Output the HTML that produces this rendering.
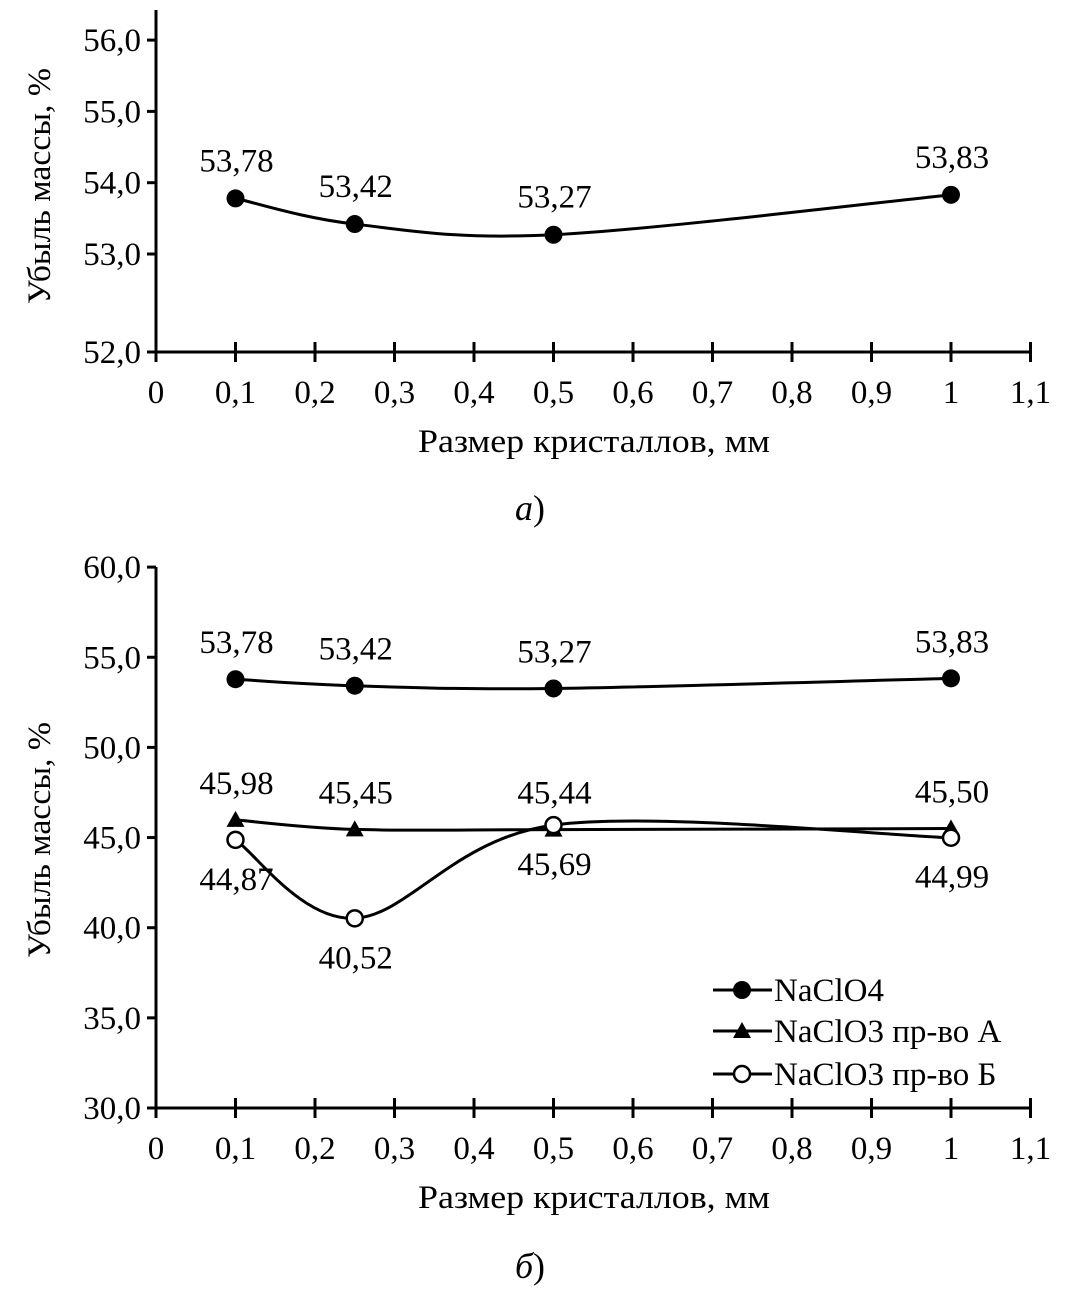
<!DOCTYPE html>
<html><head><meta charset="utf-8"><style>
body{margin:0;background:#fff}
svg{display:block;font-family:"Liberation Serif",serif}
</style></head><body>
<svg id="s" width="1067" height="1294"></svg>
<script>
const xs=[0.1,0.25,0.5,1];
const xTicks=[0,0.1,0.2,0.3,0.4,0.5,0.6,0.7,0.8,0.9,1,1.1];
const xTickLabels=["0","0,1","0,2","0,3","0,4","0,5","0,6","0,7","0,8","0,9","1","1,1"];
const aValues=[53.78,53.42,53.27,53.83];
const aLabels=["53,78","53,42","53,27","53,83"];
const aYTicks=[53,54,55,56];
const aYTickLabels=["53,0","54,0","55,0","56,0"];
const bNaClO4=[53.78,53.42,53.27,53.83];
const bNaClO3A=[45.98,45.45,45.44,45.50];
const bNaClO3B=[44.87,40.52,45.69,44.99];
const bLabelsClO4=["53,78","53,42","53,27","53,83"];
const bLabelsA=["45,98","45,45","45,44","45,50"];
const bLabelsB=["44,87","40,52","45,69","44,99"];
const bYTicks=[30,35,40,45,50,55,60];
const bYTickLabels=["30,0","35,0","40,0","45,0","50,0","55,0","60,0"];

const FS=33;
const NS="http://www.w3.org/2000/svg",S=document.getElementById('s');
function el(t,a,txt){const e=document.createElementNS(NS,t);for(const k in a)e.setAttribute(k,a[k]);if(txt!==undefined)e.textContent=txt;S.appendChild(e);return e;}
const X=v=>156+v*795;
function spline(pts){let d=`M${pts[0][0]},${pts[0][1]}`;for(let i=0;i<pts.length-1;i++){const p0=pts[i-1]||pts[i],p1=pts[i],p2=pts[i+1],p3=pts[i+2]||p2;const t=1/3;
d+=` C${p1[0]+(p2[0]-p0[0])*t/2},${p1[1]+(p2[1]-p0[1])*t/2} ${p2[0]-(p3[0]-p1[0])*t/2},${p2[1]-(p3[1]-p1[1])*t/2} ${p2[0]},${p2[1]}`;}return d;}
function xAxis(y0,name){
 let e=el('line',{x1:148,y1:y0,x2:1030,y2:y0,stroke:'#000','stroke-width':3});
 xTicks.forEach((v,i)=>{let t=el('line',{x1:X(v),y1:y0-10,x2:X(v),y2:y0+10,stroke:'#000','stroke-width':3});
 let l=el('text',{x:X(v),y:y0+51,'text-anchor':'middle','font-size':FS},xTickLabels[i]);});
 let t=el('text',{x:594,y:y0+100,'text-anchor':'middle','font-size':FS,textLength:352,lengthAdjust:'spacingAndGlyphs'},'Размер кристаллов, мм');
}
function yAxis(top,bot,Y,ticks,labels,name,yt){
 let e=el('line',{x1:156,y1:top,x2:156,y2:bot,stroke:'#000','stroke-width':3});
 ticks.forEach((v,i)=>{let t=el('line',{x1:147,y1:Y(v),x2:156,y2:Y(v),stroke:'#000','stroke-width':3});
 let l=el('text',{x:141,y:Y(v)+11,'text-anchor':'end','font-size':FS},labels[i]);});
 let t=el('text',{x:0,y:0,'text-anchor':'middle','font-size':FS,textLength:236,lengthAdjust:'spacingAndGlyphs',transform:`translate(50,${yt}) rotate(-90)`},'Убыль массы, %');
}
function series(vals,Y,marker,name){
 const pts=xs.map((x,i)=>[X(x),Y(vals[i])]);
 let p=el('path',{d:spline(pts),fill:'none',stroke:'#000','stroke-width':3});
 pts.forEach(q=>drawMarker(q[0],q[1],marker,name));
}
function drawMarker(x,y,m,name){let e;
 if(m==='dot')e=el('circle',{cx:x,cy:y,r:9,fill:'#000'});
 else if(m==='open')e=el('circle',{cx:x,cy:y,r:8,fill:'#fff',stroke:'#000','stroke-width':2.5});
 else e=el('polygon',{points:`${x},${y-9} ${x+9},${y+7} ${x-9},${y+7}`,fill:'#000'});
 }
function labels(vals,Y,txt,dy,name){xs.forEach((x,i)=>{let t=el('text',{x:X(x)+1,y:Y(vals[i])+dy,'text-anchor':'middle','font-size':FS},txt[i]);});}

// chart a
const Ya=v=>254-(v-53)*71.3;
yAxis(10,352,Ya,aYTicks,aYTickLabels,'chart-a',186);
let l52=el('line',{x1:147,y1:352,x2:156,y2:352,stroke:'#000','stroke-width':3});
let t52=el('text',{x:141,y:363,'text-anchor':'end','font-size':FS},'52,0');
xAxis(352,'chart-a');
series(aValues,Ya,'dot','chart-a-naclo4');
labels(aValues,Ya,aLabels,-27,'chart-a');
let ca=el('text',{x:530,y:520,'text-anchor':'middle','font-size':36},'');
ca.innerHTML='<tspan font-style="italic">а</tspan>)';

// chart b
const Yb=v=>1108-(v-30)*18.03;
yAxis(567,1108,Yb,bYTicks,bYTickLabels,'chart-b',840);
xAxis(1108,'chart-b');
series(bNaClO4,Yb,'dot','naclo4');
series(bNaClO3A,Yb,'tri','naclo3-a');
series(bNaClO3B,Yb,'open','naclo3-b');
labels(bNaClO4,Yb,bLabelsClO4,-26,'naclo4');
labels(bNaClO3A,Yb,bLabelsA,-26,'naclo3-a');
labels(bNaClO3B,Yb,bLabelsB,50,'naclo3-b');
// legend
const leg=[['dot','NaClO4',990],['tri','NaClO3  пр-во А',1031],['open','NaClO3  пр-во Б',1074]];
leg.forEach(r=>{let g=el('line',{x1:713,y1:r[2],x2:772,y2:r[2],stroke:'#000','stroke-width':3});
drawMarker(742,r[2],r[0],'legend');
let t=el('text',{x:774,y:r[2]+11,'font-size':FS,'xml:space':'preserve'},r[1]);});
let cb=el('text',{x:530,y:1278,'text-anchor':'middle','font-size':36},'');
cb.innerHTML='<tspan font-style="italic">б</tspan>)';
</script>
</body></html>
